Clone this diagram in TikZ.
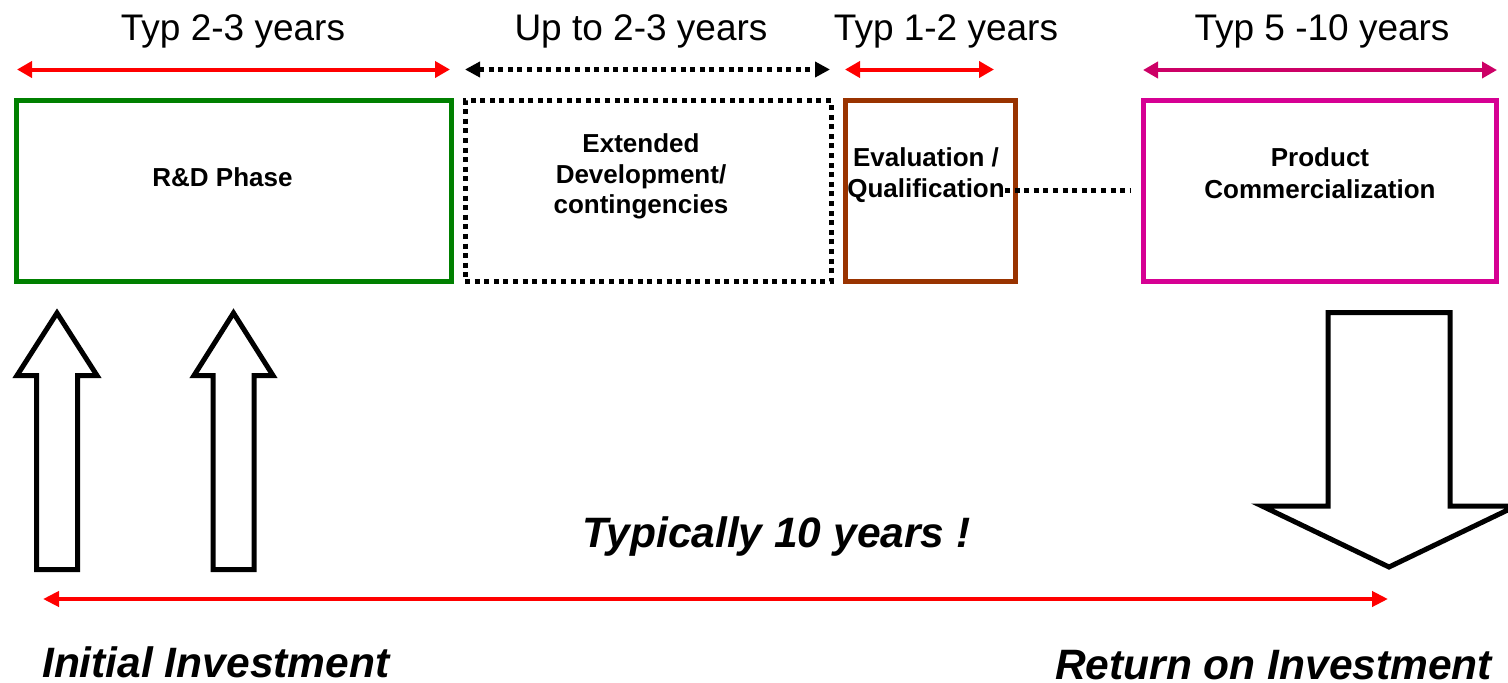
\documentclass[tikz,border=0pt]{standalone}
\usepackage{fontspec}
\setmainfont{Liberation Sans}
\usetikzlibrary{arrows.meta}
\definecolor{spanred}{RGB}{255,0,0}
\definecolor{rdgreen}{RGB}{0,128,0}
\definecolor{evalbrown}{RGB}{153,51,0}
\definecolor{prodpink}{RGB}{214,0,147}
\definecolor{prodarrow}{RGB}{204,0,102}
\tikzset{
  headtxt/.style={font=\fontsize{37}{44}\selectfont, anchor=base, inner sep=0pt},
  boxtxt/.style={font=\bfseries\fontsize{26}{31}\selectfont, anchor=base, inner sep=0pt},
  bigtxt/.style={font=\bfseries\itshape\fontsize{42.5}{48}\selectfont, anchor=base west, inner sep=0pt},
  phasebox/.style={draw, line width=5pt, inner sep=0pt, line join=miter},
  dotpattern/.style={dash pattern=on 5pt off 4.6pt},
  tipA/.tip={Triangle[length=15pt,width=16pt]},
  spanarrow/.style={line width=4pt, tipA-tipA},
  blockarrow/.style={draw=black, line width=5pt, fill=white, line join=miter},
}
\begin{document}
\begin{tikzpicture}[x=1pt,y=-1pt]
\useasboundingbox (0,0) rectangle (1508,683);
\clip (0,0) rectangle (1508,683);

% headings
\node[headtxt] (h1) at (233,40) {Typ 2-3 years};
\node[headtxt] (h2) at (641,40) {Up to 2-3 years};
\node[headtxt] (h3) at (946,40) {Typ 1-2 years};
\node[headtxt] (h4) at (1322,40) {Typ 5 -10 years};

% span arrows
\coordinate (a1l) at (17,69.5);   \coordinate (a1r) at (450,69.5);
\coordinate (a2l) at (465,69.5);  \coordinate (a2r) at (830,69.5);
\coordinate (a3l) at (845,69.5);  \coordinate (a3r) at (994,69.5);
\coordinate (a4l) at (1143,70);   \coordinate (a4r) at (1497,70);
\draw[spanarrow, spanred] (a1l) -- (a1r);
\draw[line width=4.5pt, black, dotpattern, {Triangle[length=15pt,width=15pt]}-{Triangle[length=15pt,width=15pt]}] (a2l) -- (a2r);
\draw[spanarrow, spanred] (a3l) -- (a3r);
\draw[spanarrow, prodarrow] (a4l) -- (a4r);

% phase boxes
\node[phasebox, draw=rdgreen, minimum width=435pt, minimum height=181pt] (rd) at (233.5,191) {};
\node[phasebox, draw=black, dotpattern, minimum width=366pt, minimum height=181pt] (ext) at (648,191) {};
\node[phasebox, draw=evalbrown, minimum width=170pt, minimum height=181pt] (eval) at (930.5,191) {};
\node[phasebox, draw=prodpink, minimum width=353pt, minimum height=181pt] (prod) at (1320,191) {};

% box texts
\node[boxtxt] (rdtxt) at (222.5,186) {R\&D Phase};
\node[boxtxt] (ext1) at (641,152) {Extended};
\node[boxtxt] (ext2) at (641,183) {Development/};
\node[boxtxt] (ext3) at (641,213.5) {contingencies};
\node[boxtxt] (ev1) at (926,166) {Evaluation /};
\node[boxtxt] (qual) at (926,197) {Qualification};
\node[boxtxt] (pr1) at (1320,166) {Product};
\node[boxtxt] (pr2) at (1320,198) {Commercialization};

% dotted connector
\coordinate (dotend) at (1131,190.5);
\draw[line width=4.5pt, dotpattern] (qual.east |- dotend) -- (dotend);

% investment arrows
\draw[blockarrow] (36.5,569.5) -- (36.5,375.5) -- (17,375.5) -- (57,313) -- (97,375.5) -- (77.5,375.5) -- (77.5,569.5) -- cycle;
\draw[blockarrow] (213,569.5) -- (213,375.5) -- (194,375.5) -- (233.5,313) -- (273,375.5) -- (254,375.5) -- (254,569.5) -- cycle;
\draw[blockarrow] (1328,312.5) -- (1450,312.5) -- (1450,506) -- (1516,506) -- (1389,567) -- (1262,506) -- (1328,506) -- cycle;

% total duration
\node[bigtxt] (typ) at (582,547) {Typically 10 years !};
\coordinate (tl) at (43,599); \coordinate (tr) at (1388,599);
\draw[line width=4.5pt, spanred, {Triangle[length=16pt,width=15pt]}-{Triangle[length=16pt,width=15pt]}] (tl) -- (tr);

\node[bigtxt] (init) at (42,677) {Initial Investment};
\node[bigtxt] (roi) at (1055,679) {Return on Investment};
\end{tikzpicture}
\end{document}
